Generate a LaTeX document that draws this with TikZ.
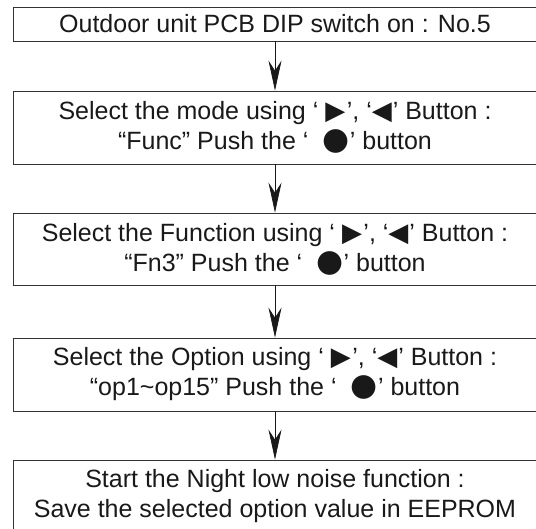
\documentclass[tikz,border=0pt]{standalone}
\usepackage{fontspec}
\setmainfont{Liberation Sans}
\newfontfamily\symfont{DejaVu Sans}
\usetikzlibrary{arrows.meta}
\newcommand{\rtri}{{\symfont\fontsize{26}{26}\selectfont ▶}\kern1.5pt}
\newcommand{\ltri}{{\symfont\fontsize{26}{26}\selectfont ◀}\kern1pt}
\newcommand{\okdot}{{\symfont\fontsize{31}{31}\selectfont ●}\kern0.5pt}
\begin{document}
\begin{tikzpicture}[
      x=1pt, y=1pt,
      stepbox/.style={draw=black!80, line width=0.8pt, align=center, inner sep=0pt,
        minimum width=524pt, font=\fontsize{25}{30}\selectfont, text=black!90},
      arrow/.style={-{Stealth[length=30pt, width=13pt, inset=10pt]}, line width=0.7pt, black!90}
    ]
    \useasboundingbox (0,0) rectangle (536,-528);
    \node[stepbox, minimum height=34pt] (dip) at (275,-24) {Outdoor unit PCB DIP switch on : No.5};
    \node[stepbox, minimum height=73pt] (mode) at (275,-127.5) {Select the mode using ‘ \rtri’, ‘\ltri’ Button :\\“Func” Push the ‘ \ \okdot’ button};
    \node[stepbox, minimum height=72pt] (func) at (275,-249) {Select the Function using ‘ \rtri’, ‘\ltri’ Button :\\“Fn3” Push the ‘ \ \okdot’ button};
    \node[stepbox, minimum height=73pt] (option) at (275,-374.5) {Select the Option using ‘ \rtri’, ‘\ltri’ Button :\\“op1\char`~op15” Push the ‘ \ \okdot’ button};
    \node[stepbox, minimum height=73pt] (save) at (275,-496.5) {Start the Night low noise function :\\Save the selected option value in EEPROM};

    \draw[arrow] (dip) -- (mode);
    \draw[arrow] (mode) -- (func);
    \draw[arrow] (func) -- (option);
    \draw[arrow] (option) -- (save);
  \end{tikzpicture}
\end{document}
